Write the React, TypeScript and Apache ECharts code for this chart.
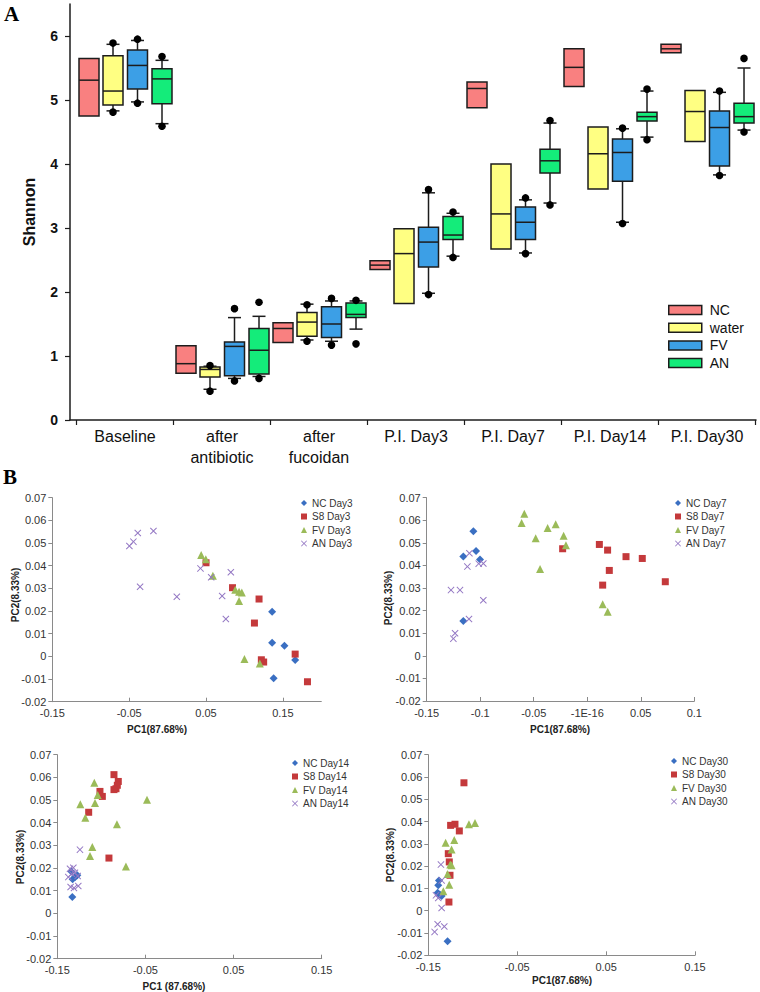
import React, { useEffect, useRef } from "react";
import * as echarts from "echarts";

// ---------- Panel A data ----------
const categories = ["Baseline", "after\nantibiotic", "after\nfucoidan", "P.I. Day3", "P.I. Day7", "P.I. Day14", "P.I. Day30"];
const groupNames = ["NC", "water", "FV", "AN"];
const groupColors = ["#F98080", "#FFFF82", "#3C9FE6", "#14EC7A"];

// each row: [whiskerLow, q1, median, q3, whiskerHigh, dotLow, dotHigh]
const ncStats = [
  [null, 4.75, 5.31, 5.65, null, null, null],
  [null, 0.73, 0.88, 1.16, null, null, null],
  [null, 1.21, 1.43, 1.52, null, null, null],
  [null, 2.35, 2.42, 2.49, null, null, null],
  [null, 4.88, 5.18, 5.28, null, null, null],
  [null, 5.21, 5.51, 5.8, null, null, null],
  [null, 5.74, 5.8, 5.87, null, null, null],
];
const waterStats = [
  [4.83, 4.92, 5.14, 5.69, 5.87, 4.81, 5.89],
  [0.48, 0.67, 0.79, 0.83, 0.84, 0.45, 0.85],
  [1.25, 1.31, 1.53, 1.68, 1.81, 1.23, 1.8],
  [null, 1.82, 2.6, 2.99, null, null, null],
  [null, 2.67, 3.22, 4.0, null, null, null],
  [null, 3.61, 4.16, 4.58, null, null, null],
  [null, 4.35, 4.82, 5.15, null, null, null],
];
const fvStats = [
  [4.97, 5.17, 5.54, 5.78, 5.93, 4.95, 5.95],
  [0.65, 0.69, 1.15, 1.22, 1.6, 0.61, 1.74],
  [1.23, 1.29, 1.5, 1.77, 1.86, 1.17, 1.9],
  [1.98, 2.39, 2.78, 3.01, 3.55, 1.96, 3.6],
  [2.61, 2.82, 3.09, 3.33, 3.44, 2.6, 3.47],
  [3.09, 3.73, 4.18, 4.39, 4.55, 3.07, 4.56],
  [3.83, 3.97, 4.57, 4.83, 5.12, 3.82, 5.14],
];
const anStats = [
  [4.63, 4.94, 5.33, 5.49, 5.62, 4.59, 5.68],
  [0.68, 0.72, 1.09, 1.43, 1.62, 0.65, 1.84],
  [1.42, 1.6, 1.65, 1.83, 1.86, 1.19, 1.87],
  [2.56, 2.82, 2.89, 3.18, 3.23, 2.54, 3.25],
  [3.39, 3.86, 4.05, 4.23, 4.64, 3.36, 4.68],
  [4.42, 4.67, 4.74, 4.81, 5.14, 4.38, 5.17],
  [4.53, 4.64, 4.74, 4.95, 5.5, 4.5, 5.65],
];
const shannonTicks = [0, 1, 2, 3, 4, 5, 6];

// ---------- Panel B data ----------
const nc3 = [[0.136, 0.0197], [0.136, 0.006], [0.152, 0.0047], [0.166, -0.0016], [0.138, -0.0097]];
const s83 = [[0.05, 0.0413], [0.0845, 0.0303], [0.119, 0.0253], [0.113, 0.0147], [0.122, -0.0015], [0.125, -0.0025], [0.166, 0.001], [0.182, -0.0112]];
const fv3 = [[0.0437, 0.0447], [0.0497, 0.0429], [0.0589, 0.0356], [0.088, 0.0294], [0.093, 0.0285], [0.0966, 0.0282], [0.093, 0.0244], [0.1, -0.0012], [0.12, -0.0032]];
const an3 = [[-0.0497, 0.0487], [-0.0445, 0.0506], [-0.0388, 0.0544], [-0.0184, 0.0553], [-0.0358, 0.0307], [0.012, 0.0263], [0.0428, 0.0388], [0.0567, 0.0349], [0.0823, 0.0371], [0.071, 0.0266], [0.0758, 0.0165]];

const nc7 = [[-0.1064, 0.0552], [-0.1039, 0.0464], [-0.1158, 0.044], [-0.1002, 0.0426], [-0.1158, 0.0154]];
const s87 = [[-0.023, 0.0474], [0.0113, 0.0493], [0.019, 0.0468], [0.0362, 0.0439], [0.0514, 0.0431], [0.0206, 0.0378], [0.0144, 0.0313], [0.0729, 0.0328]];
const fv7 = [[-0.0588, 0.0629], [-0.0613, 0.0588], [-0.037, 0.0566], [-0.0295, 0.0583], [-0.0482, 0.052], [-0.0221, 0.0532], [-0.0199, 0.049], [-0.0441, 0.0384], [0.0144, 0.0228], [0.0191, 0.0195]];
const an7 = [[-0.1101, 0.0454], [-0.112, 0.0395], [-0.1014, 0.0408], [-0.0971, 0.0409], [-0.1273, 0.0291], [-0.1189, 0.0291], [-0.0971, 0.0246], [-0.1105, 0.0163], [-0.1235, 0.01], [-0.1251, 0.0076]];

const nc14 = [[-0.133, 0.0072], [-0.1326, 0.015], [-0.1296, 0.016], [-0.1273, 0.0168], [-0.1341, 0.0185]];
const s814 = [[-0.0857, 0.0612], [-0.0808, 0.0582], [-0.0819, 0.0565], [-0.0834, 0.055], [-0.0857, 0.0546], [-0.1016, 0.0538], [-0.0989, 0.0516], [-0.1144, 0.0446], [-0.0914, 0.0244]];
const fv14 = [[-0.108, 0.0576], [-0.1239, 0.0481], [-0.1042, 0.0522], [-0.1072, 0.0487], [-0.0482, 0.0501], [-0.1182, 0.0422], [-0.0823, 0.0393], [-0.1103, 0.0293], [-0.1129, 0.0253], [-0.0721, 0.0207]];
const an14 = [[-0.1243, 0.0281], [-0.1356, 0.0197], [-0.1318, 0.0201], [-0.1375, 0.016], [-0.1337, 0.0175], [-0.1269, 0.0165], [-0.1349, 0.0116], [-0.1311, 0.0112], [-0.1262, 0.0121], [-0.13, 0.0179]];

const nc30 = [[-0.138, 0.0136], [-0.1388, 0.0114], [-0.1395, 0.0081], [-0.1369, 0.0072], [-0.135, 0.0066], [-0.1283, -0.0137]];
const s830 = [[-0.1099, 0.0574], [-0.12, 0.0388], [-0.1249, 0.0383], [-0.1151, 0.0358], [-0.1275, 0.0256], [-0.1264, 0.0219], [-0.1256, 0.0159], [-0.1268, 0.0039]];
const fv30 = [[-0.1043, 0.0388], [-0.0975, 0.0394], [-0.1305, 0.0305], [-0.1208, 0.0317], [-0.1238, 0.0275], [-0.1253, 0.0207], [-0.1238, 0.0204], [-0.1283, 0.0165], [-0.1264, 0.0117], [-0.1331, 0.0087]];
const an30 = [[-0.1358, 0.0207], [-0.135, 0.0136], [-0.1414, 0.0069], [-0.1388, 0.0057], [-0.135, 0.0012], [-0.1395, -0.0061], [-0.132, -0.0071], [-0.1429, -0.0095]];

const pcYTicks = [-0.02, -0.01, 0, 0.01, 0.02, 0.03, 0.04, 0.05, 0.06, 0.07];
const pcXTicksWide = [-0.15, -0.05, 0.05, 0.15];
const pcXTicksDay7 = [-0.15, -0.1, -0.05, 0, 0.05, 0.1];

const FONT = "'Liberation Sans', Arial, Helvetica, sans-serif";
const SERIF = "'Liberation Serif', 'Times New Roman', serif";
const EDGE = "#1c1c1c";
const BOX_OFFSETS = [-36, -12, 12.5, 37];
const BOX_W = 20;
const CAP_W = 13;
const DOT_R = 3.8;

const scatterColors = { NC: "#3A6FC2", S8: "#C4393B", FV: "#9BBB59", AN: "#9478C4" };
const X_SYMBOL = "path://M0,1L1,0L5,4L9,0L10,1L6,5L10,9L9,10L5,6L1,10L0,9L4,5Z";

function makeRender(stats: any[], offsetPx: number, color: string) {
  return (params: any, api: any) => {
    const s = stats[params.dataIndex];
    const i = api.value(0);
    const cx = api.coord([i, 0])[0] + offsetPx;
    const y = (v: number) => api.coord([i, v])[1];
    const half = BOX_W / 2;
    const cap = CAP_W / 2;
    const ls = { stroke: EDGE, lineWidth: 1.5 };
    const children: any[] = [];
    if (s[0] != null) {
      children.push({ type: "line", shape: { x1: cx, y1: y(s[1]), x2: cx, y2: y(s[0]) }, style: ls });
      children.push({ type: "line", shape: { x1: cx - cap, y1: y(s[0]), x2: cx + cap, y2: y(s[0]) }, style: ls });
    }
    if (s[4] != null) {
      children.push({ type: "line", shape: { x1: cx, y1: y(s[3]), x2: cx, y2: y(s[4]) }, style: ls });
      children.push({ type: "line", shape: { x1: cx - cap, y1: y(s[4]), x2: cx + cap, y2: y(s[4]) }, style: ls });
    }
    children.push({
      type: "rect",
      shape: { x: cx - half, y: y(s[3]), width: BOX_W, height: y(s[1]) - y(s[3]) },
      style: { fill: color, stroke: EDGE, lineWidth: 1.5 },
    });
    children.push({ type: "line", shape: { x1: cx - half, y1: y(s[2]), x2: cx + half, y2: y(s[2]) }, style: ls });
    [s[5], s[6]].forEach((d) => {
      if (d != null) children.push({ type: "circle", shape: { cx, cy: y(d), r: DOT_R }, style: { fill: "#000" } });
    });
    return { type: "group", children };
  };
}

const fmtPc = (v: number) => {
  if (Math.abs(v) < 1e-9) return "0";
  return String(parseFloat(v.toFixed(3)));
};
const fmtDay7 = (v: number) => {
  if (Math.abs(v) < 1e-9) return "-1E-16";
  return String(parseFloat(v.toFixed(3)));
};

function pcXAxis(gridIndex: number, max: number, ticks: number[], fmt: (v: number) => string) {
  return {
    type: "value",
    gridIndex,
    min: -0.15,
    max,
    axisLine: { show: true, onZero: false, lineStyle: { color: "#8a8a8a", width: 1 } },
    axisTick: { show: true, inside: true, length: 4, customValues: ticks, lineStyle: { color: "#8a8a8a" } },
    axisLabel: { customValues: ticks, formatter: fmt, fontSize: 11, color: "#333", fontFamily: FONT, margin: 6 },
    splitLine: { show: false },
  };
}
function pcYAxis(gridIndex: number) {
  return {
    type: "value",
    gridIndex,
    min: -0.02,
    max: 0.07,
    axisLine: { show: true, onZero: false, lineStyle: { color: "#8a8a8a", width: 1 } },
    axisTick: { show: true, length: 4, customValues: pcYTicks, lineStyle: { color: "#8a8a8a" } },
    axisLabel: { customValues: pcYTicks, formatter: fmtPc, fontSize: 11, color: "#333", fontFamily: FONT, margin: 6 },
    splitLine: { show: false },
  };
}

function scatterSeries(name: string, kind: "NC" | "S8" | "FV" | "AN", idx: number, data: number[][]) {
  const symbol = kind === "NC" ? "diamond" : kind === "S8" ? "rect" : kind === "FV" ? "triangle" : X_SYMBOL;
  const size = kind === "NC" ? 8 : kind === "S8" ? 7 : kind === "FV" ? 8 : 7;
  return {
    type: "scatter",
    name,
    xAxisIndex: idx,
    yAxisIndex: idx,
    symbol,
    symbolSize: size,
    itemStyle: { color: scatterColors[kind], opacity: 1 },
    data,
  };
}

function pcLegend(left: number, top: number, names: string[]) {
  return {
    orient: "vertical",
    left,
    top,
    padding: 0,
    itemWidth: 6,
    itemHeight: 6,
    itemGap: 3.5,
    textStyle: { fontSize: 10, color: "#333", fontFamily: FONT },
    data: names,
  };
}

export default function App() {
  const ref = useRef<HTMLDivElement>(null);
  useEffect(() => {
    if (!ref.current) return;
    const chart = echarts.init(ref.current, undefined, { renderer: "svg" });
    const allStats = [ncStats, waterStats, fvStats, anStats];
    const boxSeries = allStats.map((stats, g) => ({
      type: "custom",
      name: groupNames[g],
      xAxisIndex: 0,
      yAxisIndex: 0,
      itemStyle: { color: groupColors[g] },
      renderItem: makeRender(stats, BOX_OFFSETS[g], groupColors[g]),
      encode: { x: 0, y: [1, 2] },
      data: stats.map((s, i) => [i, s[1], s[3]]),
    }));

    const catIdx = categories.map((_, i) => i);
    const catEdges = categories.map((_, i) => i - 0.5).concat([categories.length - 0.5]);

    const option: any = {
      animation: false,
      backgroundColor: "#fff",
      grid: [
        { left: 70, top: 4, width: 686, height: 416 },
        { left: 52.3, top: 497.7, width: 269, height: 204 },
        { left: 426.7, top: 497.7, width: 267.6, height: 203.3 },
        { left: 57.3, top: 754.7, width: 264.4, height: 204 },
        { left: 428.3, top: 754.7, width: 266.7, height: 200.6 },
      ],
      xAxis: [
        {
          type: "value",
          gridIndex: 0,
          min: -0.567,
          max: 6.505,
          axisLine: { show: true, onZero: false, lineStyle: { color: EDGE, width: 1.5 } },
          axisTick: { show: true, length: 5, customValues: catEdges, lineStyle: { color: EDGE, width: 1.2 } },
          axisLabel: {
            customValues: catIdx,
            formatter: (v: number) => categories[Math.round(v)],
            fontSize: 16,
            lineHeight: 21,
            color: "#111",
            fontFamily: FONT,
            margin: 6,
          },
          splitLine: { show: false },
        },
        pcXAxis(1, 0.2, pcXTicksWide, fmtPc),
        pcXAxis(2, 0.1, pcXTicksDay7, fmtDay7),
        pcXAxis(3, 0.15, pcXTicksWide, fmtPc),
        pcXAxis(4, 0.15, pcXTicksWide, fmtPc),
      ],
      yAxis: [
        {
          type: "value",
          gridIndex: 0,
          min: 0,
          max: 6.5,
          axisLine: { show: true, onZero: false, lineStyle: { color: EDGE, width: 1.5 } },
          axisTick: { show: true, length: 5, customValues: shannonTicks, lineStyle: { color: EDGE, width: 1.2 } },
          axisLabel: {
            customValues: shannonTicks,
            fontSize: 14,
            fontWeight: "bold",
            color: "#111",
            fontFamily: FONT,
            margin: 12,
          },
          splitLine: { show: false },
        },
        pcYAxis(1),
        pcYAxis(2),
        pcYAxis(3),
        pcYAxis(4),
      ],
      legend: [
        {
          orient: "vertical",
          left: 668,
          top: 303,
          padding: 0,
          itemWidth: 33,
          itemHeight: 9,
          itemGap: 3.7,
          textStyle: { fontSize: 14, color: "#111", fontFamily: FONT, padding: [0, 0, 0, 3] },
          data: groupNames.map((n, g) => ({
            name: n,
            icon: "rect",
            itemStyle: { color: groupColors[g], borderColor: EDGE, borderWidth: 1.5 },
          })),
        },
        pcLegend(301, 498, ["NC Day3", "S8 Day3", "FV Day3", "AN Day3"]),
        pcLegend(675, 498, ["NC Day7", "S8 Day7", "FV Day7", "AN Day7"]),
        pcLegend(292, 758, ["NC Day14", "S8 Day14", "FV Day14", "AN Day14"]),
        pcLegend(671, 756, ["NC Day30", "S8 Day30", "FV Day30", "AN Day30"]),
      ],
      graphic: [
        { type: "text", x: 4, y: 3, style: { text: "A", font: `bold 21px ${SERIF}`, fill: "#000" } },
        { type: "text", x: 3, y: 466, style: { text: "B", font: `bold 21px ${SERIF}`, fill: "#000" } },
        {
          type: "text", x: 29, y: 212, rotation: Math.PI / 2,
          style: { text: "Shannon", font: `bold 16px ${FONT}`, fill: "#111", align: "center", verticalAlign: "middle" },
        },
        { type: "text", x: 157, y: 729, style: { text: "PC1(87.68%)", font: `bold 10px ${FONT}`, fill: "#222", align: "center", verticalAlign: "middle" } },
        { type: "text", x: 560, y: 729, style: { text: "PC1(87.68%)", font: `bold 10px ${FONT}`, fill: "#222", align: "center", verticalAlign: "middle" } },
        { type: "text", x: 174, y: 986, style: { text: "PC1 (87.68%)", font: `bold 10px ${FONT}`, fill: "#222", align: "center", verticalAlign: "middle" } },
        { type: "text", x: 562, y: 980, style: { text: "PC1(87.68%)", font: `bold 10px ${FONT}`, fill: "#222", align: "center", verticalAlign: "middle" } },
        { type: "text", x: 15, y: 595, rotation: Math.PI / 2, style: { text: "PC2(8.33%)", font: `bold 10px ${FONT}`, fill: "#222", align: "center", verticalAlign: "middle" } },
        { type: "text", x: 388, y: 598, rotation: Math.PI / 2, style: { text: "PC2(8.33%)", font: `bold 10px ${FONT}`, fill: "#222", align: "center", verticalAlign: "middle" } },
        { type: "text", x: 20, y: 857, rotation: Math.PI / 2, style: { text: "PC2(8.33%)", font: `bold 10px ${FONT}`, fill: "#222", align: "center", verticalAlign: "middle" } },
        { type: "text", x: 390, y: 855, rotation: Math.PI / 2, style: { text: "PC2(8.33%)", font: `bold 10px ${FONT}`, fill: "#222", align: "center", verticalAlign: "middle" } },
      ],
      series: [
        ...boxSeries,
        scatterSeries("NC Day3", "NC", 1, nc3),
        scatterSeries("S8 Day3", "S8", 1, s83),
        scatterSeries("FV Day3", "FV", 1, fv3),
        scatterSeries("AN Day3", "AN", 1, an3),
        scatterSeries("NC Day7", "NC", 2, nc7),
        scatterSeries("S8 Day7", "S8", 2, s87),
        scatterSeries("FV Day7", "FV", 2, fv7),
        scatterSeries("AN Day7", "AN", 2, an7),
        scatterSeries("NC Day14", "NC", 3, nc14),
        scatterSeries("S8 Day14", "S8", 3, s814),
        scatterSeries("FV Day14", "FV", 3, fv14),
        scatterSeries("AN Day14", "AN", 3, an14),
        scatterSeries("NC Day30", "NC", 4, nc30),
        scatterSeries("S8 Day30", "S8", 4, s830),
        scatterSeries("FV Day30", "FV", 4, fv30),
        scatterSeries("AN Day30", "AN", 4, an30),
      ],
    };
    chart.setOption(option);
    return () => chart.dispose();
  }, []);
  return (
    <div
      ref={ref}
      style={{ position: "absolute", left: 0, top: 0, width: 760, height: 992, background: "#fff" }}
    />
  );
}
